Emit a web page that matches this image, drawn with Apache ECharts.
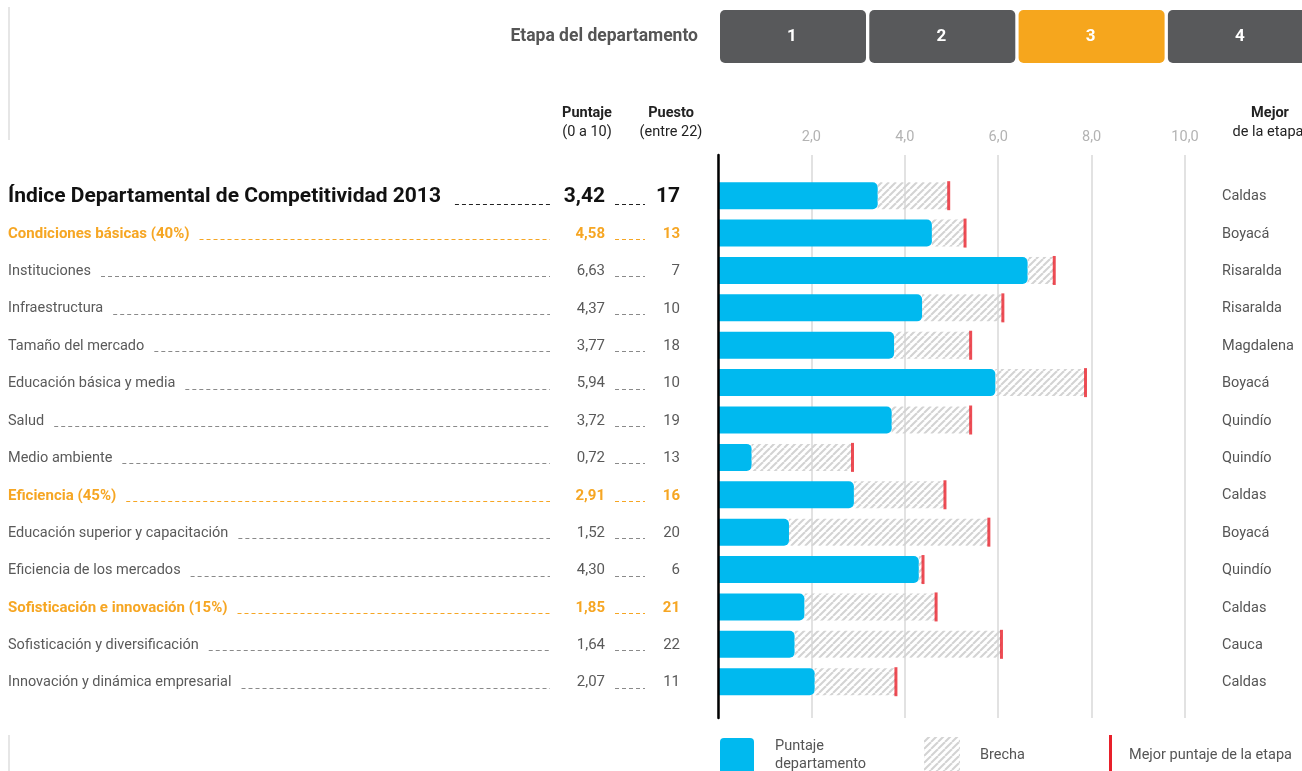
<!DOCTYPE html>
<html>
<head>
<meta charset="utf-8">
<script src="https://cdn.jsdelivr.net/npm/echarts@6/dist/echarts.min.js"></script>
<style>
  html, body { margin: 0; padding: 0; background: #fff; }
  #chart { width: 1302px; height: 771px; }
</style>
</head>
<body>
<div id="chart"></div>
<script>
// Índice Departamental de Competitividad 2013 — pillar scores, rank and best score of the stage
const categories = [
  'Índice Departamental de Competitividad 2013',
  'Condiciones básicas (40%)',
  'Instituciones',
  'Infraestructura',
  'Tamaño del mercado',
  'Educación básica y media',
  'Salud',
  'Medio ambiente',
  'Eficiencia (45%)',
  'Educación superior y capacitación',
  'Eficiencia de los mercados',
  'Sofisticación e innovación (15%)',
  'Sofisticación y diversificación',
  'Innovación y dinámica empresarial'
];
// 0 = overall index, 1 = factor, 2 = pillar
const rowLevels = [0, 1, 2, 2, 2, 2, 2, 2, 1, 2, 2, 1, 2, 2];
const scores = [3.42, 4.58, 6.63, 4.37, 3.77, 5.94, 3.72, 0.72, 2.91, 1.52, 4.30, 1.85, 1.64, 2.07];
const ranks = [17, 13, 7, 10, 18, 10, 19, 13, 16, 20, 6, 21, 22, 11];
const bestScores = [4.94, 5.29, 7.20, 6.10, 5.41, 7.87, 5.41, 2.88, 4.86, 5.80, 4.39, 4.67, 6.07, 3.81];
const bestDepartments = ['Caldas', 'Boyacá', 'Risaralda', 'Risaralda', 'Magdalena', 'Boyacá', 'Quindío',
  'Quindío', 'Caldas', 'Boyacá', 'Quindío', 'Caldas', 'Cauca', 'Caldas'];
const axisTicks = [2, 4, 6, 8, 10];
const stages = ['1', '2', '3', '4'];
const currentStage = '3';

const FONT = 'Roboto, "Noto Sans", sans-serif';
const BLUE = '#00b9ef';
const ORANGE = '#f6a623';
const RED = '#e8202a';
const DARK = '#58595b';

const fmt = (v, d) => v.toFixed(d).replace('.', ',');

// Diagonal hatch used for the gap between the score and the best score
function makeHatch(size, color) {
  const c = document.createElement('canvas');
  c.width = size; c.height = size;
  const ctx = c.getContext('2d');
  ctx.strokeStyle = color;
  ctx.lineWidth = 2;
  for (let k = -1; k <= 1; k++) {
    ctx.beginPath();
    ctx.moveTo(k * size, size);
    ctx.lineTo(k * size + size, 0);
    ctx.stroke();
  }
  return c;
}
const hatch = makeHatch(7, '#d3d3d3');

const measureCtx = document.createElement('canvas').getContext('2d');
function textWidth(str, size, weight) {
  measureCtx.font = weight + ' ' + size + 'px ' + FONT;
  return measureCtx.measureText(str).width;
}

const levelStyle = [
  { size: 21, weight: 'bold', color: '#111', lead: '#222', off: 7, numSize: 21 },
  { size: 15, weight: 'bold', color: ORANGE, lead: ORANGE, off: 5, numSize: 15 },
  { size: 14.5, weight: 'normal', color: '#5a5a5a', lead: '#8a8a8a', off: 5, numSize: 15 }
];

// Left-hand table (name, score, rank) and right-hand best department, positioned on the category scale
function renderRow(params, api) {
  const i = params.dataIndex;
  const y = api.coord([0, i])[1] + 1;
  const s = levelStyle[rowLevels[i]];
  const ly = Math.round(y + s.off) + 0.5;
  const nameW = textWidth(categories[i], s.size, s.weight);
  const txt = (text, x, align, extra) => ({
    type: 'text',
    style: Object.assign({
      text, x, y, align, verticalAlign: 'middle',
      fontFamily: FONT, fontSize: s.size, fontWeight: s.weight, fill: s.color
    }, extra || {})
  });
  const lead = (x1, x2) => ({
    type: 'line',
    shape: { x1, y1: ly, x2, y2: ly },
    style: { stroke: s.lead, lineWidth: 1, lineDash: [4, 3] }
  });
  return {
    type: 'group',
    children: [
      txt(categories[i], 8, 'left'),
      lead(8 + nameW + (rowLevels[i] === 0 ? 14 : 10), 550),
      txt(fmt(scores[i], 2), 605, 'right', { fontSize: s.numSize }),
      lead(615, 645),
      txt(String(ranks[i]), 680, 'right', { fontSize: s.numSize }),
      txt(bestDepartments[i], 1222, 'left', { fontSize: 14.5, fontWeight: 'normal', fill: '#555' })
    ]
  };
}

// Header: stage selector, column titles, legend
const graphics = [];
graphics.push({ type: 'rect', shape: { x: 8, y: 7, width: 2, height: 133 }, style: { fill: '#e6e6e6' } });
graphics.push({ type: 'rect', shape: { x: 8, y: 735, width: 2, height: 40 }, style: { fill: '#e6e6e6' } });
graphics.push({ type: 'text', style: { text: 'Etapa del departamento', x: 698, y: 37, align: 'right', verticalAlign: 'middle',
  fontFamily: FONT, fontSize: 17.5, fontWeight: 'bold', fill: '#555' } });
stages.forEach((st, k) => {
  const x = 720 + k * 149.3;
  graphics.push({ type: 'rect', shape: { x, y: 10, width: 146, height: 53, r: 5 },
    style: { fill: st === currentStage ? '#f6a61d' : DARK } });
  graphics.push({ type: 'text', style: { text: st, x: x + 72, y: 37, align: 'center', verticalAlign: 'middle',
    fontFamily: FONT, fontSize: 17, fontWeight: 'bold', fill: '#fff' } });
});
const headText = (text, x, y, bold, align) => ({ type: 'text', style: { text, x, y, align: align || 'center', verticalAlign: 'middle',
  fontFamily: FONT, fontSize: 14.5, fontWeight: bold ? 'bold' : 'normal', fill: '#222' } });
graphics.push(headText('Puntaje', 587, 113, true));
graphics.push(headText('(0 a 10)', 587, 132, false));
graphics.push(headText('Puesto', 671, 113, true));
graphics.push(headText('(entre 22)', 671, 132, false));
graphics.push(headText('Mejor', 1270, 113, true));
graphics.push(headText('de la etapa', 1268, 132, false));

const legText = (text, x, y) => ({ type: 'text', style: { text, x, y, align: 'left', verticalAlign: 'middle',
  fontFamily: FONT, fontSize: 14.5, fill: '#555' } });
graphics.push({ type: 'rect', shape: { x: 720, y: 738, width: 34, height: 40, r: 4 }, style: { fill: BLUE } });
graphics.push(legText('Puntaje', 775, 746));
graphics.push(legText('departamento', 775, 764));
graphics.push({ type: 'rect', shape: { x: 924, y: 737, width: 36, height: 40 }, style: { fill: { image: hatch, repeat: 'repeat' } } });
graphics.push(legText('Brecha', 980, 755));
graphics.push({ type: 'rect', shape: { x: 1109, y: 735, width: 3, height: 40 }, style: { fill: RED } });
graphics.push(legText('Mejor puntaje de la etapa', 1129, 755));

const chart = echarts.init(document.getElementById('chart'), null, { renderer: 'canvas' });
chart.setOption({
  animation: false,
  backgroundColor: '#fff',
  graphic: graphics,
  grid: [
    { left: 718, width: 467, top: 155, height: 563 },
    { left: 718, width: 467, top: 177, height: 523.4 }
  ],
  xAxis: [
    {
      gridIndex: 0, type: 'value', position: 'top', min: 0, max: 10, interval: 2,
      axisLine: { show: false }, axisTick: { show: false },
      axisLabel: {
        margin: 10, color: '#b3b3b3', fontFamily: FONT, fontSize: 14.5,
        formatter: v => (axisTicks.indexOf(v) >= 0 ? fmt(v, 1) : '')
      },
      splitLine: { show: true, lineStyle: { color: '#e2e2e2', width: 2 } }
    },
    { gridIndex: 1, type: 'value', min: 0, max: 10, show: false }
  ],
  yAxis: [
    {
      gridIndex: 0, type: 'value', min: 0, max: 1, z: 10,
      axisLine: { show: true, lineStyle: { color: '#000', width: 2.5 } },
      axisTick: { show: false }, axisLabel: { show: false }, splitLine: { show: false }
    },
    { gridIndex: 1, type: 'category', inverse: true, data: categories, show: false }
  ],
  series: [
    {
      name: 'Puntaje departamento', type: 'bar', xAxisIndex: 1, yAxisIndex: 1, stack: 'total',
      barWidth: 27, data: scores,
      itemStyle: { color: BLUE, borderRadius: [0, 5, 5, 0] }
    },
    {
      name: 'Brecha', type: 'bar', xAxisIndex: 1, yAxisIndex: 1, stack: 'total',
      barWidth: 27, data: bestScores.map((b, i) => +(b - scores[i]).toFixed(2)),
      itemStyle: { color: { image: hatch, repeat: 'repeat' } }
    },
    {
      name: 'Mejor puntaje de la etapa', type: 'scatter', xAxisIndex: 1, yAxisIndex: 1, z: 5,
      symbol: 'rect', symbolSize: [3, 29],
      data: bestScores.map((b, i) => [b, i]),
      itemStyle: { color: RED }
    },
    {
      type: 'custom', xAxisIndex: 1, yAxisIndex: 1, clip: false, silent: true,
      data: categories.map((c, i) => [0, i]),
      renderItem: renderRow
    }
  ]
});
</script>
</body>
</html>
